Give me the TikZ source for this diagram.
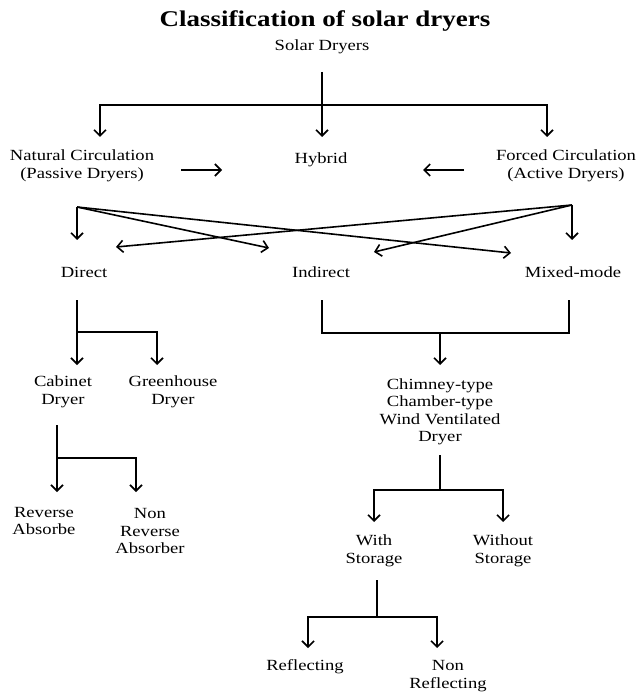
\documentclass[tikz,border=0pt]{standalone}
\usepackage{fontspec}
\setmainfont{Liberation Serif}[FakeStretch=1.2]
\usetikzlibrary{arrows.meta}

\begin{document}
\begin{tikzpicture}[x=1pt,y=-1pt,
    lbl/.style={align=center,inner sep=0pt,font=\fontsize{15.5}{17.5}\selectfont},
    link/.style={line width=1.6pt},
    arr/.style={line width=1.6pt,-{Straight Barb[length=6pt,width=12pt]}},
    twoarr/.style={line width=1.6pt,{Straight Barb[length=6pt,width=12pt]}-{Straight Barb[length=6pt,width=12pt]}}]
    \useasboundingbox (0,0) rectangle (638,692);

    \node[font=\fontsize{22.5}{26}\selectfont\bfseries] (title) at (325,21) {Classification of solar dryers};
    \node[lbl] (solar) at (322,47) {Solar Dryers};
    \node[lbl] (natural) at (82,166) {Natural Circulation\\(Passive Dryers)};
    \node[lbl] (hybrid) at (321,160) {Hybrid};
    \node[lbl] (forced) at (566,166) {Forced Circulation\\(Active Dryers)};
    \node[lbl] (direct) at (84,272) {Direct};
    \node[lbl] (indirect) at (321,272) {Indirect};
    \node[lbl] (mixed) at (573,272) {Mixed-mode};
    \node[lbl] (cabinet) at (63,392) {Cabinet\\Dryer};
    \node[lbl] (greenhouse) at (173,392) {Greenhouse\\Dryer};
    \node[lbl] (chimney) at (440,412) {Chimney-type\\Chamber-type\\Wind Ventilated\\Dryer};
    \node[lbl] (reverse) at (44,521) {Reverse\\Absorbe};
    \node[lbl] (nonreverse) at (150,531) {Non\\Reverse\\Absorber};
    \node[lbl] (withst) at (374,551) {With\\Storage};
    \node[lbl] (withoutst) at (503,551) {Without\\Storage};
    \node[lbl] (reflecting) at (305,667) {Reflecting};
    \node[lbl] (nonreflecting) at (448,676) {Non\\Reflecting};

    % first level
    \coordinate (s0) at (322,72);
    \coordinate (s1) at (322,105);
    \coordinate (tn) at (100,137);
    \coordinate (th) at (322,137);
    \coordinate (tf) at (547,137);
    \draw[twoarr] (tn) -- (tn |- s1) -- (tf |- s1) -- (tf);
    \draw[arr] (s0) -- (th);
    \coordinate (na) at (181,170);
    \coordinate (nb) at (222,170);
    \coordinate (fa) at (464,170);
    \coordinate (fb) at (423,170);
    \draw[arr] (na) -- (nb);
    \draw[arr] (fa) -- (fb);

    % crossing arrows
    \coordinate (cl) at (77,207);
    \coordinate (cr) at (572,205);
    \coordinate (dl) at (77,240);
    \coordinate (il) at (269,248);
    \coordinate (ml) at (511,253);
    \coordinate (mr) at (572,240);
    \coordinate (dr) at (116,247);
    \coordinate (ir) at (374,252);
    \draw[arr] (cl) -- (dl);
    \draw[arr] (cl) -- (il);
    \draw[arr] (cl) -- (ml);
    \draw[arr] (cr) -- (mr);
    \draw[arr] (cr) -- (dr);
    \draw[arr] (cr) -- (ir);

    % direct branch
    \coordinate (d0) at (77,300);
    \coordinate (d1) at (77,332);
    \coordinate (tc) at (77,365);
    \coordinate (tg) at (157,365);
    \draw[arr] (d0) -- (tc);
    \draw[arr] (d1) -| (tg);

    % indirect and mixed-mode
    \coordinate (i0) at (322,300);
    \coordinate (j0) at (440,333);
    \coordinate (m0) at (569,300);
    \coordinate (tj) at (440,365);
    \draw[link] (i0) |- (j0) -| (m0);
    \draw[arr] (j0) -- (tj);

    % cabinet branch
    \coordinate (c0) at (57,425);
    \coordinate (c1) at (57,458);
    \coordinate (tr) at (57,492);
    \coordinate (tnr) at (136,492);
    \draw[arr] (c0) -- (tr);
    \draw[arr] (c1) -| (tnr);

    % chimney branch
    \coordinate (h0) at (440,455);
    \coordinate (h1) at (440,490);
    \coordinate (tw) at (374,522);
    \coordinate (two) at (503,522);
    \draw[link] (h0) -- (h1);
    \draw[twoarr] (tw) -- (tw |- h1) -- (two |- h1) -- (two);

    % storage branch
    \coordinate (w0) at (377,580);
    \coordinate (w1) at (377,617);
    \coordinate (trf) at (308,648);
    \coordinate (tnf) at (437,648);
    \draw[link] (w0) -- (w1);
    \draw[twoarr] (trf) -- (trf |- w1) -- (tnf |- w1) -- (tnf);
\end{tikzpicture}
\end{document}
